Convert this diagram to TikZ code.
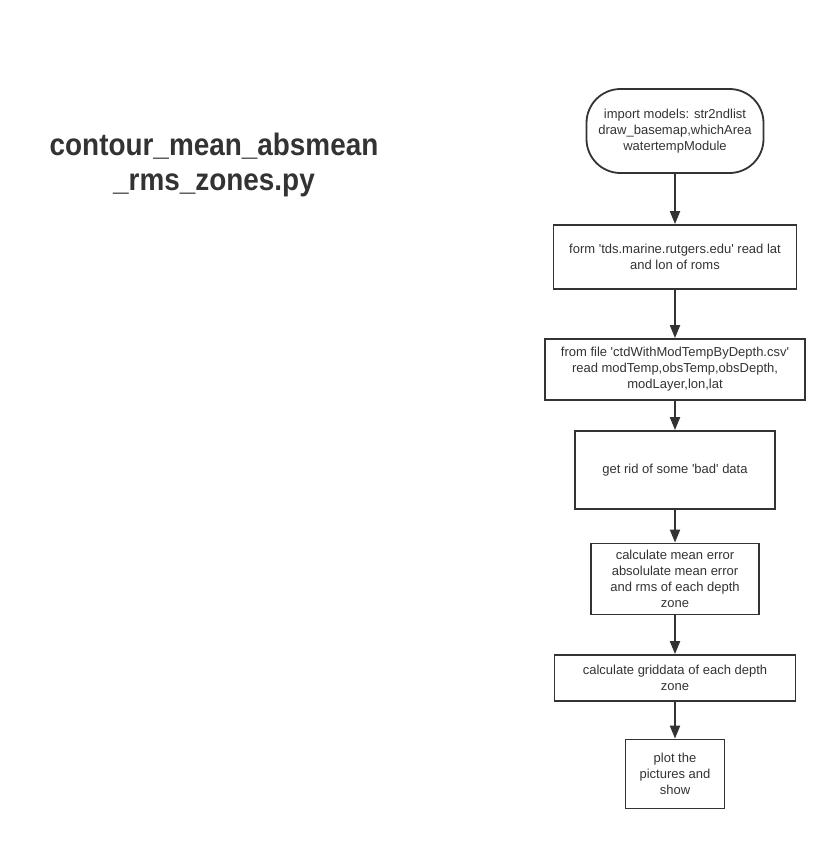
\documentclass[tikz,border=0pt]{standalone}
\usepackage{fontspec}
\setmainfont{Liberation Sans}
\newfontfamily\titlefont{Liberation Sans}[FakeStretch=0.9]
\usepackage{xcolor}
\usepackage{tikz}
\usetikzlibrary{arrows.meta}
\definecolor{ink}{RGB}{51,51,51}
\newcommand{\q}{\textquotesingle}

\begin{document}
\begin{tikzpicture}[x=1pt,y=-1pt,
    box/.style={draw=ink,line width=1.8pt,font=\fontsize{13}{16}\selectfont,text=ink,align=center,inner sep=0pt},
    term/.style={box,rounded corners=34pt},
    arr/.style={-{Triangle[length=13pt,width=10pt]},draw=ink,line width=2pt}]
    \useasboundingbox (0,0) rectangle (838,841);
    \node[font=\titlefont\fontsize{31}{35}\selectfont\bfseries,text=ink,align=center] (title) at (214,164.5){contour\_mean\_absmean\\\_rms\_zones.py};
    \node[term,minimum width=177pt,minimum height=84pt] (imp) at (675,131){import models: str2ndlist\\draw\_basemap,whichArea\\watertempModule};
    \node[box,minimum width=243pt,minimum height=64pt] (form) at (675,257){form \q tds.marine.rutgers.edu\q{} read lat\\and lon of roms};
    \node[box,minimum width=260pt,minimum height=61pt] (csv) at (675,369.5){from file \q ctdWithModTempByDepth.csv\q\\read modTemp,obsTemp,obsDepth,\\modLayer,lon,lat};
    \node[box,minimum width=200pt,minimum height=78pt] (bad) at (675,470){get rid of some \q bad\q{} data};
    \node[box,minimum width=168pt,minimum height=71pt] (err) at (675,579){calculate mean error\\absolulate mean error\\and rms of each depth\\zone};
    \node[box,minimum width=241pt,minimum height=46pt] (grid) at (675,678){calculate griddata of each depth\\zone};
    \node[box,minimum width=99pt,minimum height=69pt] (plot) at (675,774){plot the\\pictures and\\show};
    \draw[arr] (imp)--(form);
    \draw[arr] (form)--(csv);
    \draw[arr] (csv)--(bad);
    \draw[arr] (bad)--(err);
    \draw[arr] (err)--(grid);
    \draw[arr] (grid)--(plot);
  \end{tikzpicture}
\end{document}
